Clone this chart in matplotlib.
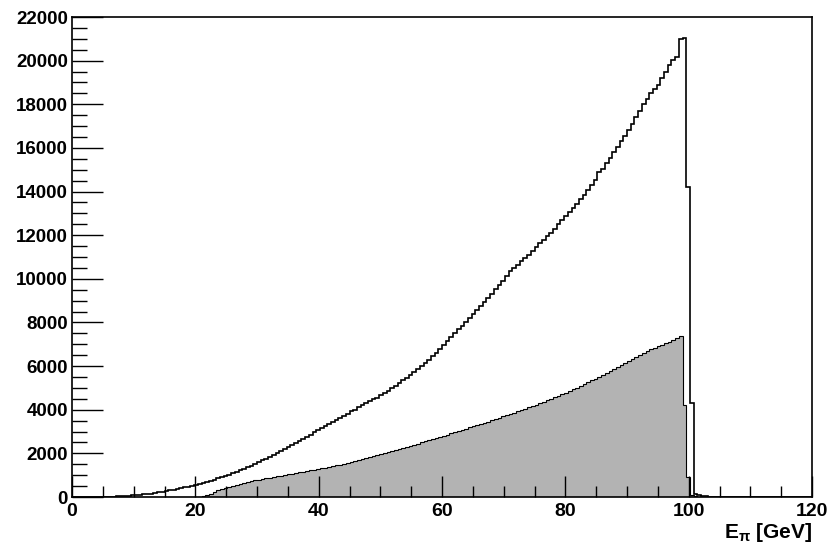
import matplotlib
matplotlib.use("Agg")
import matplotlib.pyplot as plt
import numpy as np
from matplotlib.ticker import MultipleLocator

# 200 bins of 0.6 GeV from 0 to 120
bin_width = 0.6
n_bins = 200

# all pions, first bin starts at 4.8 GeV
upper_start = 4.8
upper_vals = [
    5, 8, 12, 18, 25, 35, 45, 55, 70, 85,
    100, 120, 140, 160, 185, 210, 240, 270, 300, 330,
    360, 400, 440, 480, 520, 560, 610, 650, 700, 750,
    800, 860, 910, 970, 1030, 1100, 1160, 1230, 1300, 1370,
    1440, 1520, 1600, 1680, 1760, 1840, 1930, 2020, 2110, 2200,
    2280, 2380, 2470, 2570, 2670, 2760, 2860, 2960, 3060, 3160,
    3250, 3340, 3440, 3530, 3630, 3720, 3820, 3920, 4010, 4110,
    4200, 4300, 4380, 4470, 4560, 4660, 4760, 4870, 4980, 5100,
    5220, 5340, 5460, 5580, 5720, 5850, 6000, 6150, 6300, 6450,
    6620, 6800, 6970, 7150, 7330, 7500, 7680, 7860, 8040, 8220,
    8400, 8580, 8760, 8950, 9130, 9320, 9520, 9720, 9920, 10150,
    10350, 10500, 10650, 10800, 10950, 11100, 11280, 11450, 11620, 11780,
    11950, 12120, 12300, 12500, 12700, 12880, 13050, 13250, 13450, 13650,
    13850, 14050, 14300, 14550, 14900, 15050, 15300, 15550, 15800, 16050,
    16300, 16550, 16800, 17100, 17400, 17700, 18000, 18250, 18500, 18700,
    18900, 19200, 19500, 19800, 20050, 20150, 21000, 21050, 14200,
    4300, 150, 80, 50, 30, 20, 10,
]

# selected pions (grey), first bin starts at 20.4 GeV
lower_start = 20.4
lower_vals = [
    10, 40, 90, 160, 230, 300, 360, 420, 470, 520,
    570, 610, 650, 690, 730, 770, 800, 830, 860, 890,
    920, 950, 980, 1010, 1040, 1070, 1100, 1130, 1160, 1190,
    1220, 1250, 1280, 1310, 1350, 1380, 1410, 1450, 1480, 1520,
    1570, 1610, 1650, 1700, 1740, 1790, 1830, 1880, 1920, 1970,
    2010, 2060, 2110, 2150, 2200, 2250, 2300, 2350, 2400, 2450,
    2500, 2550, 2600, 2650, 2700, 2760, 2810, 2860, 2920, 2970,
    3020, 3080, 3130, 3190, 3240, 3300, 3350, 3410, 3460, 3520,
    3580, 3630, 3690, 3750, 3810, 3870, 3930, 3990, 4050, 4110,
    4170, 4230, 4300, 4360, 4430, 4500, 4570, 4640, 4710, 4780,
    4860, 4930, 5010, 5090, 5170, 5250, 5340, 5420, 5510, 5600,
    5680, 5770, 5860, 5950, 6040, 6130, 6230, 6330, 6430, 6530,
    6620, 6700, 6780, 6850, 6920, 6980, 7040, 7100, 7200, 7300,
    7400, 4200, 900, 100, 40, 20,
]


def full_hist(start, vals):
    h = np.zeros(n_bins)
    i0 = int(round(start / bin_width))
    h[i0:i0 + len(vals)] = vals
    return h


edges = np.linspace(0, 120, n_bins + 1)
upper = full_hist(upper_start, upper_vals)
lower = full_hist(lower_start, lower_vals)

plt.rcParams.update({
    "font.family": ["Liberation Sans", "DejaVu Sans"],
    "font.weight": "bold",
    "mathtext.default": "regular",
})

fig = plt.figure(figsize=(8.30, 5.59), dpi=100)
ax = fig.add_axes([72 / 830, 1 - 497 / 559, 740 / 830, 480 / 559])

ax.stairs(lower, edges, fill=True, color="#b3b3b3")
ax.stairs(lower, edges, color="black", linewidth=0.8)
ax.stairs(upper, edges, color="black", linewidth=1.2)

ax.set_xlim(0, 120)
ax.set_ylim(0, 22000)
ax.xaxis.set_major_locator(MultipleLocator(20))
ax.xaxis.set_minor_locator(MultipleLocator(5))
ax.yaxis.set_major_locator(MultipleLocator(2000))
ax.yaxis.set_minor_locator(MultipleLocator(500))
ax.tick_params(axis="x", which="major", direction="in", length=15, width=1, labelsize=14, pad=4)
ax.tick_params(axis="x", which="minor", direction="in", length=8, width=1)
ax.tick_params(axis="y", which="major", direction="in", length=22, width=1, labelsize=13.5, pad=3)
ax.tick_params(axis="y", which="minor", direction="in", length=11, width=1)
for lab in ax.get_xticklabels() + ax.get_yticklabels():
    lab.set_fontweight("bold")
for s in ax.spines.values():
    s.set_linewidth(1.2)

ax.set_xlabel(r"E$_{\pi}$ [GeV]", fontsize=15, fontweight="bold", loc="right", labelpad=1)

fig.savefig("out.png", dpi=100)
